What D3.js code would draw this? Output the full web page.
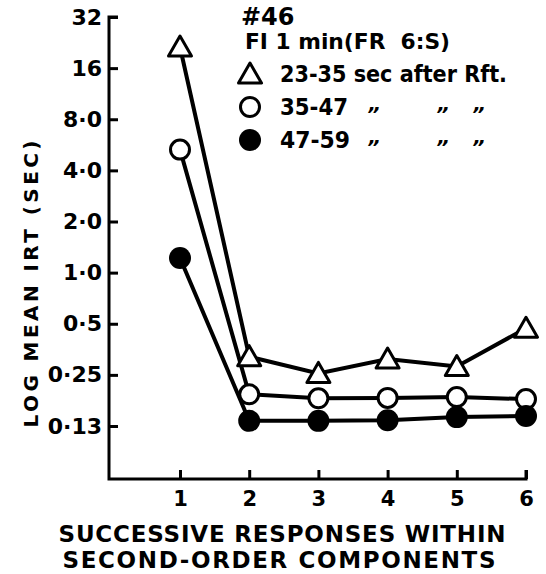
<!DOCTYPE html>
<html>
<head>
<meta charset="utf-8">
<script src="https://cdn.jsdelivr.net/npm/d3@7"></script>
<style>
  body { margin: 0; background: #fff; }
  svg text { font-family: "DejaVu Sans", sans-serif; font-weight: bold; fill: #000; }
</style>
</head>
<body>
<svg id="chart" width="546" height="574"></svg>
<script>
// successive responses within second-order components
const responses = [1, 2, 3, 4, 5, 6];
// log mean IRT (sec)
const irt23to35 = [21.3, 0.32, 0.255, 0.31, 0.28, 0.47];
const irt35to47 = [5.3, 0.192, 0.182, 0.183, 0.185, 0.18];
const irt47to59 = [1.22, 0.134, 0.134, 0.135, 0.141, 0.143];

const yTickValues = [0.125, 0.25, 0.5, 1, 2, 4, 8, 16, 32];
const yTickLabels = ["0·13", "0·25", "0·5", "1·0", "2·0", "4·0", "8·0", "16", "32"];

const legendLabels = ["23-35 sec after Rft.", "35-47", "47-59"];

const svg = d3.select("#chart");

const axisX = 109, axisY = 479;

const x = d3.scaleLinear()
    .domain([1, 6])
    .range([180, 526]);

const y = d3.scaleLog().base(2)
    .domain([0.125, 32])
    .range([426, 17]);

// axes lines drawn by hand so they meet in the corner
svg.append("path")
    .attr("d", `M${axisX + 9},${y(32)}H${axisX}V${axisY}H${x(6)}V${axisY - 9}`)
    .attr("fill", "none")
    .attr("stroke", "#000")
    .attr("stroke-width", 3);

const yAxis = d3.axisLeft(y)
    .tickValues(yTickValues)
    .tickFormat((d, i) => yTickLabels[i])
    .tickSize(-9)
    .tickPadding(7);

const gy = svg.append("g")
    .attr("transform", `translate(${axisX},0)`)
    .call(yAxis);
gy.select(".domain").remove();
gy.selectAll("line").attr("stroke-width", 3);
gy.selectAll("text")
    .attr("font-size", 22)
    .attr("font-family", "DejaVu Sans")
    .attr("font-weight", "bold");

const xAxis = d3.axisBottom(x)
    .tickValues(responses)
    .tickFormat(d3.format("d"))
    .tickSize(-9)
    .tickPadding(12);

const gx = svg.append("g")
    .attr("transform", `translate(0,${axisY})`)
    .call(xAxis);
gx.select(".domain").remove();
gx.selectAll("line").attr("stroke-width", 3);
gx.selectAll("text")
    .attr("font-size", 21)
    .attr("font-family", "DejaVu Sans")
    .attr("font-weight", "bold");

// axis titles
svg.append("text")
    .attr("x", 282)
    .attr("y", 542)
    .attr("text-anchor", "middle")
    .attr("font-size", 23)
    .attr("textLength", 447)
    .attr("lengthAdjust", "spacing")
    .text("SUCCESSIVE RESPONSES WITHIN");

svg.append("text")
    .attr("x", 279)
    .attr("y", 568)
    .attr("text-anchor", "middle")
    .attr("font-size", 23)
    .attr("textLength", 433)
    .attr("lengthAdjust", "spacing")
    .text("SECOND-ORDER COMPONENTS");

svg.append("text")
    .attr("transform", "translate(38,284) rotate(-90)")
    .attr("text-anchor", "middle")
    .attr("font-size", 20)
    .attr("textLength", 287)
    .attr("lengthAdjust", "spacing")
    .text("LOG MEAN IRT (SEC)");

// series
const line = d3.line()
    .x((d, i) => x(responses[i]))
    .y(d => y(d));

const series = [irt23to35, irt35to47, irt47to59];
series.forEach(s => {
    svg.append("path")
        .datum(s)
        .attr("d", line)
        .attr("fill", "none")
        .attr("stroke", "#000")
        .attr("stroke-width", 4);
});

const tri = (cx, cy) => `M${cx},${cy - 11}L${cx + 11.5},${cy + 9}L${cx - 11.5},${cy + 9}Z`;

svg.append("g").selectAll("path")
    .data(irt23to35)
    .enter().append("path")
    .attr("d", (d, i) => tri(x(responses[i]), y(d)))
    .attr("fill", "#fff")
    .attr("stroke", "#000")
    .attr("stroke-width", 3)
    .attr("stroke-linejoin", "round");

svg.append("g").selectAll("circle")
    .data(irt35to47)
    .enter().append("circle")
    .attr("cx", (d, i) => x(responses[i]))
    .attr("cy", d => y(d))
    .attr("r", 9.5)
    .attr("fill", "#fff")
    .attr("stroke", "#000")
    .attr("stroke-width", 3);

svg.append("g").selectAll("circle")
    .data(irt47to59)
    .enter().append("circle")
    .attr("cx", (d, i) => x(responses[i]))
    .attr("cy", d => y(d))
    .attr("r", 11)
    .attr("fill", "#000");

// legend
svg.append("text")
    .attr("x", 241).attr("y", 25)
    .attr("font-size", 24)
    .text("#46");

svg.append("text")
    .attr("x", 245).attr("y", 49)
    .attr("font-size", 21)
    .attr("textLength", 205)
    .attr("lengthAdjust", "spacingAndGlyphs")
    .attr("xml:space", "preserve")
    .text("FI 1 min(FR  6:S)");

svg.append("path")
    .attr("d", tri(250, 74))
    .attr("fill", "#fff")
    .attr("stroke", "#000")
    .attr("stroke-width", 3)
    .attr("stroke-linejoin", "round");
svg.append("circle")
    .attr("cx", 250).attr("cy", 107).attr("r", 9.5)
    .attr("fill", "#fff").attr("stroke", "#000").attr("stroke-width", 3);
svg.append("circle")
    .attr("cx", 250).attr("cy", 140).attr("r", 11)
    .attr("fill", "#000");

const legendY = [82, 115, 148];
const legendW = [227, 68, 70];
legendLabels.forEach((t, i) => {
    svg.append("text")
        .attr("x", 280).attr("y", legendY[i])
        .attr("font-size", 23)
        .attr("textLength", legendW[i])
        .attr("lengthAdjust", "spacingAndGlyphs")
        .text(t);
});

// ditto marks under "sec", "after", "Rft."
[373, 442, 478].forEach(dx => {
    [1, 2].forEach(r => {
        svg.append("text")
            .attr("x", dx).attr("y", legendY[r] + 6)
            .attr("text-anchor", "middle")
            .attr("font-size", 20)
            .attr("font-style", "italic")
            .text("\u201D");
    });
});
</script>
</body>
</html>
